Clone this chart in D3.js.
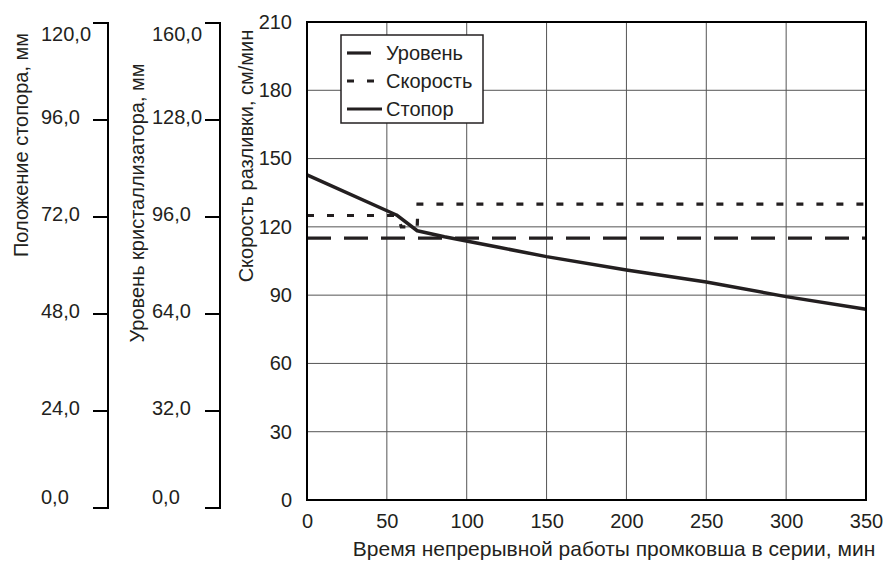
<!DOCTYPE html>
<html>
<head>
<meta charset="utf-8">
<script src="https://cdn.jsdelivr.net/npm/d3@7"></script>
<style>
  html, body { margin: 0; padding: 0; background: #fff; }
  svg { display: block; font-family: "Liberation Sans", Arial, sans-serif; }
</style>
</head>
<body>
<div id="chart"></div>
<script>
// time axis, min
const timeTicks = [0, 50, 100, 150, 200, 250, 300, 350];
const speedTicks = [0, 30, 60, 90, 120, 150, 180, 210];
const stopperTicks = [0, 24, 48, 72, 96, 120];
const levelTicks = [0, 32, 64, 96, 128, 160];

// Стопор, мм (по оси положения стопора)
const stopperTime = [0, 56, 69, 86, 120, 150, 200, 250, 300, 350];
const stopperMm = [82.4, 72.5, 68.6, 67.1, 64.5, 62.2, 58.9, 55.9, 52.3, 49.2];

// Скорость, см/мин
const speedTime = [0, 57, 59, 69, 69.5, 350];
const speedVals = [125, 125, 120, 120, 130, 130];

// Уровень, мм (по оси уровня кристаллизатора)
const levelTime = [0, 350];
const levelMm = [89, 89];

const legendNames = ['Уровень', 'Скорость', 'Стопор'];

const W = 885, H = 565;
const plot = { left: 307, right: 866, top: 22, bottom: 500 };
const sideTop = 23, sideBottom = 508;
const FS = 20;
const ink = '#231f20';

const svg = d3.select('#chart').append('svg')
  .attr('width', W).attr('height', H);

const fmt = v => d3.format('.1f')(v).replace('.', ',');

// scales
const x = d3.scaleLinear().domain([0, 350]).range([plot.left, plot.right]);
const y = d3.scaleLinear().domain([0, 210]).range([plot.bottom, plot.top]);
const yStop = d3.scaleLinear().domain([0, 120]).range([sideBottom, sideTop]);
const yLevel = d3.scaleLinear().domain([0, 160]).range([sideBottom, sideTop]);

// grid
const grid = svg.append('g').attr('stroke', '#555').attr('stroke-width', 1);
grid.selectAll('.vg').data(timeTicks.slice(1, -1)).enter().append('line')
  .attr('x1', d => x(d)).attr('x2', d => x(d))
  .attr('y1', plot.top).attr('y2', plot.bottom);
grid.selectAll('.hg').data(speedTicks.slice(1, -1)).enter().append('line')
  .attr('x1', plot.left).attr('x2', plot.right)
  .attr('y1', d => y(d)).attr('y2', d => y(d));

// axes labels of main plot
const yAxis = svg.append('g')
  .attr('transform', 'translate(' + plot.left + ',0)')
  .call(d3.axisLeft(y).tickValues(speedTicks).tickSize(0).tickPadding(15));
yAxis.select('.domain').remove();
yAxis.selectAll('text').attr('font-size', FS).attr('fill', ink)
  .attr('font-family', '"Liberation Sans", Arial, sans-serif');

const xAxis = svg.append('g')
  .attr('transform', 'translate(0,' + plot.bottom + ')')
  .call(d3.axisBottom(x).tickValues(timeTicks).tickSize(0).tickPadding(14));
xAxis.select('.domain').remove();
xAxis.selectAll('text').attr('font-size', FS).attr('fill', ink)
  .attr('font-family', '"Liberation Sans", Arial, sans-serif');

// side axes
function sideAxis(scale, ticks, axisX, labelX) {
  const g = svg.append('g');
  g.append('line')
    .attr('x1', axisX).attr('x2', axisX)
    .attr('y1', sideTop - 1).attr('y2', sideBottom + 1)
    .attr('stroke', '#000').attr('stroke-width', 2);
  g.selectAll('.tk').data(ticks).enter().append('line')
    .attr('x1', axisX - 15).attr('x2', axisX)
    .attr('y1', d => scale(d)).attr('y2', d => scale(d))
    .attr('stroke', '#000').attr('stroke-width', 2);
  const last = ticks.length - 1;
  g.selectAll('.lb').data(ticks).enter().append('text')
    .attr('x', labelX)
    .attr('y', (d, i) => scale(d) + (i === 0 ? -11 : i === last ? 11 : -3))
    .attr('dy', '0.35em')
    .attr('font-size', FS).attr('fill', ink)
    .text(fmt);
}
sideAxis(yStop, stopperTicks, 108, 41);
sideAxis(yLevel, levelTicks, 220, 152);

// axis titles
function vTitle(text, cx, cy) {
  svg.append('text')
    .attr('transform', 'translate(' + cx + ',' + cy + ') rotate(-90)')
    .attr('text-anchor', 'middle').attr('dy', '0.35em')
    .attr('font-size', FS).attr('fill', ink)
    .text(text);
}
vTitle('Положение стопора, мм', 21, 145);
vTitle('Уровень кристаллизатора, мм', 137, 203);
vTitle('Скорость разливки, см/мин', 246, 156);

svg.append('text')
  .attr('x', 614).attr('y', 549).attr('dy', '0.35em')
  .attr('text-anchor', 'middle')
  .attr('font-size', 21).attr('fill', ink)
  .text('Время непрерывной работы промковша в серии, мин');

// series
const lvlLine = d3.line().x(d => x(d[0])).y(d => yLevel(d[1]));
const spdLine = d3.line().x(d => x(d[0])).y(d => y(d[1]));
const stpLine = d3.line().x(d => x(d[0])).y(d => yStop(d[1]));

svg.append('path')
  .datum(d3.zip(levelTime, levelMm))
  .attr('fill', 'none').attr('stroke', ink)
  .attr('stroke-width', 3.2).attr('stroke-dasharray', '24,13')
  .attr('d', lvlLine);

svg.append('path')
  .datum(d3.zip(speedTime, speedVals))
  .attr('fill', 'none').attr('stroke', ink)
  .attr('stroke-width', 3.2).attr('stroke-dasharray', '7,13')
  .attr('d', spdLine);

svg.append('path')
  .datum(d3.zip(stopperTime, stopperMm))
  .attr('fill', 'none').attr('stroke', ink)
  .attr('stroke-width', 3.5).attr('stroke-linejoin', 'round')
  .attr('d', stpLine);

// plot border
svg.append('rect')
  .attr('x', plot.left).attr('y', plot.top)
  .attr('width', plot.right - plot.left).attr('height', plot.bottom - plot.top)
  .attr('fill', 'none').attr('stroke', '#000').attr('stroke-width', 2);

// legend
const lg = svg.append('g');
lg.append('rect')
  .attr('x', 341).attr('y', 35).attr('width', 142).attr('height', 88)
  .attr('fill', '#fff').attr('stroke', ink).attr('stroke-width', 1.5);
const dashes = ['24,13', '7,13', null];
legendNames.forEach((name, i) => {
  const ly = 53 + i * 28;
  lg.append('line')
    .attr('x1', 347).attr('x2', i === 0 ? 371 : 382)
    .attr('y1', ly).attr('y2', ly)
    .attr('stroke', ink).attr('stroke-width', 3.2)
    .attr('stroke-dasharray', dashes[i]);
  lg.append('text')
    .attr('x', 386).attr('y', ly).attr('dy', '0.35em')
    .attr('font-size', FS).attr('fill', ink)
    .text(name);
});
</script>
</body>
</html>
